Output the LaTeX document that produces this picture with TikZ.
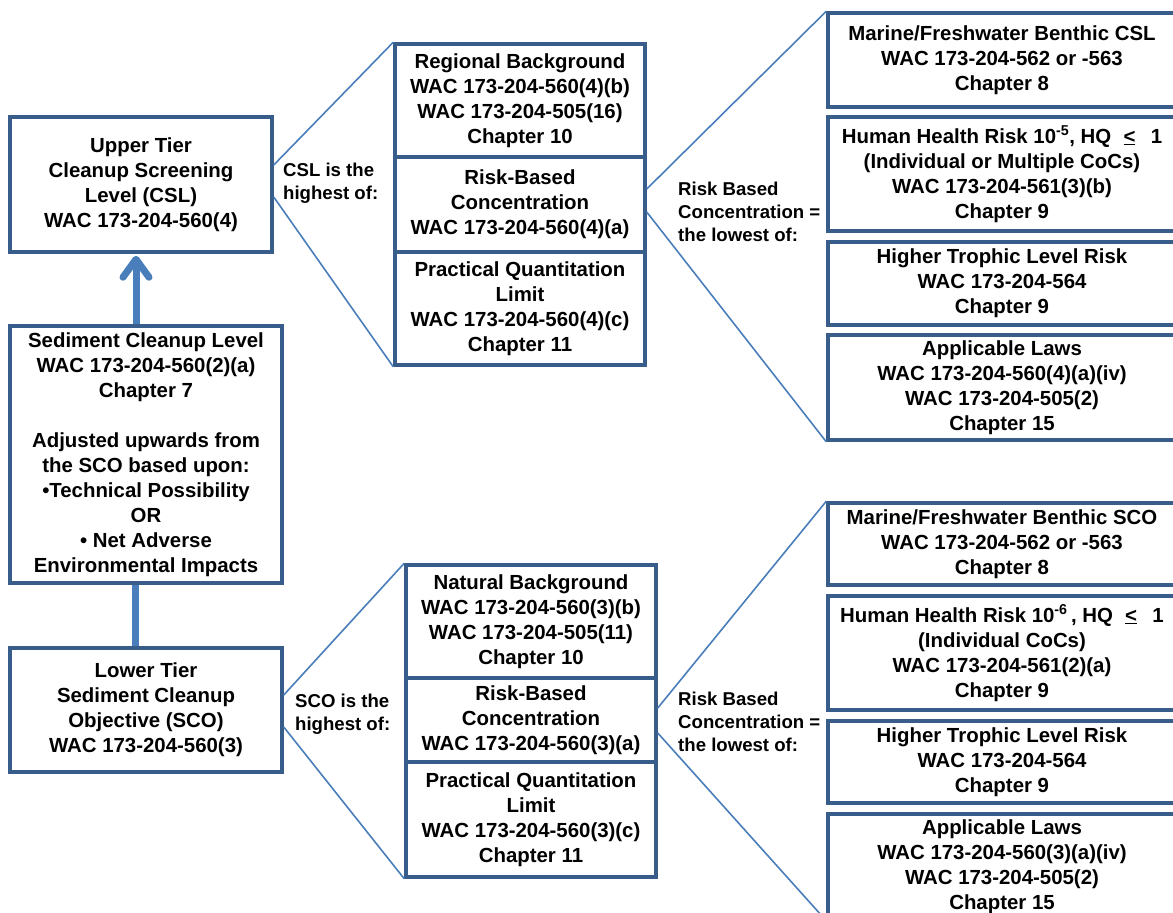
\documentclass[tikz,border=0pt]{standalone}
\usepackage{fontspec}
\setmainfont{Liberation Sans}
\usetikzlibrary{arrows.meta}
\definecolor{boxline}{HTML}{385D8A}
\definecolor{linkline}{HTML}{4A7EBB}
\tikzset{
  box/.style={draw=boxline, line width=3.5pt, fill=white, inner sep=0pt,
    align=center, font=\bfseries\fontsize{20.4}{25}\selectfont,
    execute at begin node={\rule{0pt}{20pt}}},
  link/.style={draw=linkline, line width=1.6pt},
  note/.style={inner sep=0pt, align=left, anchor=west,
    font=\bfseries\fontsize{18.6}{23}\selectfont},
  tierlink/.style={draw=linkline, line width=7pt},
}
\newcommand{\lesseq}{\underline{<}}
\begin{document}
\begin{tikzpicture}[x=1pt, y=-1pt]
\useasboundingbox (0,0) rectangle (1173,913);
\clip (0,0) rectangle (1173,913);

% ---------- left column: tiers ----------
\node[box, minimum width=262pt, minimum height=135pt] (ut) at (141,184.5)
  {Upper Tier\\Cleanup Screening\\Level (CSL)\\WAC 173-204-560(4)};
\node[box, minimum width=272pt, minimum height=257pt] (scl) at (146,454.5)
  {Sediment Cleanup Level\\WAC 173-204-560(2)(a)\\Chapter 7\\[25pt]
   Adjusted upwards from\\the SCO based upon:\\\textbullet Technical Possibility\\OR\\\textbullet\ Net Adverse\\Environmental Impacts};
\node[box, minimum width=272pt, minimum height=124pt] (lt) at (146,710)
  {Lower Tier\\Sediment Cleanup\\Objective (SCO)\\WAC 173-204-560(3)};

\draw[tierlink, -{Straight Barb[round, length=18pt, width=26pt]}]
  ([xshift=-10pt]scl.north) -- ([xshift=-5pt,yshift=-2pt]ut.south);
\draw[tierlink] ([xshift=-10.5pt]lt.north) -- ([xshift=-10.5pt]scl.south);

% ---------- upper middle stack ----------
\node[box, minimum width=250pt, minimum height=113pt] (rb) at (520,100.5)
  {Regional Background\\WAC 173-204-560(4)(b)\\WAC 173-204-505(16)\\Chapter 10};
\node[box, minimum width=250pt, minimum height=95pt] (urb) at (520,204.5)
  {Risk-Based\\Concentration\\WAC 173-204-560(4)(a)};
\node[box, minimum width=250pt, minimum height=113pt] (upq) at (520,308.5)
  {Practical Quantitation\\Limit\\WAC 173-204-560(4)(c)\\Chapter 11};

% ---------- lower middle stack ----------
\node[box, minimum width=250pt, minimum height=113pt] (nb) at (531,621.5)
  {Natural Background\\WAC 173-204-560(3)(b)\\WAC 173-204-505(11)\\Chapter 10};
\node[box, minimum width=250pt, minimum height=84pt] (lrb) at (531,720)
  {Risk-Based\\Concentration\\WAC 173-204-560(3)(a)};
\node[box, minimum width=250pt, minimum height=115pt] (lpq) at (531,819.5)
  {Practical Quantitation\\Limit\\WAC 173-204-560(3)(c)\\Chapter 11};

% ---------- upper right column ----------
\node[box, minimum width=348pt, minimum height=94pt] (ua) at (1002,60)
  {Marine/Freshwater Benthic CSL\\WAC 173-204-562 or -563\\Chapter 8};
\node[box, minimum width=348pt, minimum height=114pt] (ub) at (1002,174)
  {Human Health Risk 10\textsuperscript{-5}, HQ\hspace{0.6em}\lesseq\hspace{0.75em}1\\(Individual or Multiple CoCs)\\WAC 173-204-561(3)(b)\\Chapter 9};
\node[box, minimum width=348pt, minimum height=83pt] (uc) at (1002,283.5)
  {Higher Trophic Level Risk\\WAC 173-204-564\\Chapter 9};
\node[box, minimum width=348pt, minimum height=105pt] (ud) at (1002,387.5)
  {Applicable Laws\\WAC 173-204-560(4)(a)(iv)\\WAC 173-204-505(2)\\Chapter 15};

% ---------- lower right column ----------
\node[box, minimum width=348pt, minimum height=82pt] (la) at (1002,544)
  {Marine/Freshwater Benthic SCO\\WAC 173-204-562 or -563\\Chapter 8};
\node[box, minimum width=348pt, minimum height=114pt] (lb) at (1002,653)
  {Human Health Risk 10\textsuperscript{-6}\,, HQ\hspace{0.6em}\lesseq\hspace{0.75em}1\\(Individual CoCs)\\WAC 173-204-561(2)(a)\\Chapter 9};
\node[box, minimum width=348pt, minimum height=82pt] (lc) at (1002,762)
  {Higher Trophic Level Risk\\WAC 173-204-564\\Chapter 9};
\node[box, minimum width=348pt, minimum height=105pt] (ld) at (1002,866.5)
  {Applicable Laws\\WAC 173-204-560(3)(a)(iv)\\WAC 173-204-505(2)\\Chapter 15};

% ---------- fan-out connectors ----------
\draw[link] ([yshift=19.5pt]ut.east) -- (rb.north west);
\draw[link] ([yshift=-12.5pt]ut.east) -- (upq.south west);
\draw[link] ([yshift=15.5pt]urb.east) -- (ua.north west);
\draw[link] ([yshift=-7.5pt]urb.east) -- (ud.south west);
\draw[link] ([yshift=15pt]lt.east) -- (nb.north west);
\draw[link] ([yshift=-17pt]lt.east) -- (lpq.south west);
\draw[link] ([yshift=12pt]lrb.east) -- (la.north west);
\draw[link] ([yshift=-13pt]lrb.east) -- (ld.south west);

% ---------- connector notes ----------
\node[note] (csl) at (283,183.5) {CSL is the\\highest of:};
\node[note] (sco) at (295,714) {SCO is the\\highest of:};
\node[note] (urbc) at (678,211.5) {Risk Based\\Concentration =\\the lowest of:};
\node[note] (lrbc) at (678,721.5) {Risk Based\\Concentration =\\the lowest of:};
\end{tikzpicture}
\end{document}
